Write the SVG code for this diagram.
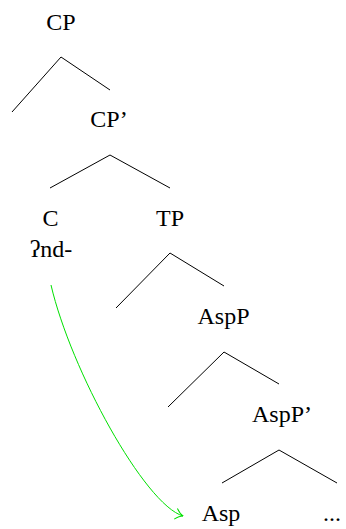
<svg xmlns="http://www.w3.org/2000/svg" width="346" height="529" viewBox="0 0 346 529">
<style>
.t { font-family: 'Liberation Serif', 'Times New Roman', 'DejaVu Serif', serif; font-size: 24px; fill: #000; text-anchor: middle; }
.edge { fill: none; stroke: #000; stroke-width: 1; }
.move { fill: none; stroke: #00e000; stroke-width: 1; }
</style>
<defs>
<marker id="arr" viewBox="0 0 10 12" refX="9.5" refY="6" markerWidth="10" markerHeight="12" markerUnits="userSpaceOnUse" orient="auto">
<path d="M2,0.5 Q6,5 9.5,6 Q6,7 2,11.5" fill="none" stroke="#00e000" stroke-width="1"/>
</marker>
</defs>
<rect width="346" height="529" fill="#fff"/>
<g id="connectors">
<polyline class="edge" points="12,112 61,57 110,90"/>
<polyline class="edge" points="50,188 110,155 170,188"/>
<polyline class="edge" points="116,308 170,253 224,286"/>
<polyline class="edge" points="168,407 224,352 279,384"/>
<polyline class="edge" points="222,483 279,450 337,483"/>
<path class="move" d="M51,285 C70.8,370 144.6,504.4 183,516" marker-end="url(#arr)"/>
</g>
<g id="CP"><text class="t" x="61" y="30">CP</text></g>
<g id="CPbar"><text class="t" x="109" y="127">CP’</text></g>
<g id="C"><text class="t" x="50.5" y="226">C</text><text class="t" x="51" y="257">ʔnd-</text></g>
<g id="TP"><text class="t" x="170" y="226">TP</text></g>
<g id="AspP"><text class="t" x="223.5" y="324">AspP</text></g>
<g id="AspPbar"><text class="t" x="282" y="422">AspP’</text></g>
<g id="Asp"><text class="t" x="221" y="521">Asp</text></g>
<g id="dots"><text class="t" x="323" y="521" style="text-anchor:start">...</text></g>
</svg>
